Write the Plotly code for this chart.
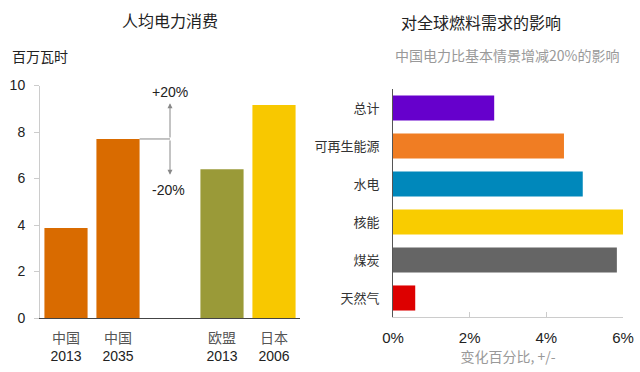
import plotly.graph_objects as go

# Left chart data
left_x = [0, 1, 3, 4]
left_labels_cn = ["中国", "中国", "欧盟", "日本"]
left_labels_yr = ["2013", "2035", "2013", "2006"]
left_values = [3.87, 7.7, 6.4, 9.16]
left_colors = ["#D96B00", "#D96B00", "#9A9A38", "#F8C800"]

# Right chart data
right_cats = ["天然气", "煤炭", "核能", "水电", "可再生能源", "总计"]
right_values = [0.58, 5.84, 6.0, 4.95, 4.46, 2.64]
right_colors = ["#DD0000", "#656565", "#F9CC00", "#0088BB", "#F07D23", "#6600CC"]
right_ticks = [0, 2, 4, 6]
right_ticktext = ["0%", "2%", "4%", "6%"]

FONT = "Liberation Sans, Arial, Noto Sans CJK SC"
CJK = "Noto Sans CJK SC, Liberation Sans"

W, H = 640, 372
def px_x(p): return p / W
def px_y(p): return 1 - p / H

fig = go.Figure()

fig.add_trace(go.Bar(
    x=left_x, y=left_values, marker=dict(color=left_colors, line=dict(width=0)),
    width=0.83, xaxis="x", yaxis="y", showlegend=False, hoverinfo="skip"))

fig.add_trace(go.Bar(
    x=right_values, y=right_cats, orientation="h",
    marker=dict(color=right_colors, line=dict(width=0)),
    width=0.66, xaxis="x2", yaxis="y2", showlegend=False, hoverinfo="skip"))

ticktext_left = [f"<span style='color:#555555'>{c}</span><br>{y}" for c, y in zip(left_labels_cn, left_labels_yr)]

fig.update_layout(
    template="none",
    width=W, height=H, margin=dict(l=0, r=0, t=0, b=0, autoexpand=False),
    paper_bgcolor="white", plot_bgcolor="white",
    font=dict(family=FONT, size=14, color="#222222"),
    xaxis=dict(domain=[px_x(40), px_x(300)], range=[-0.5, 4.5], automargin=False,
               tickmode="array", tickvals=left_x, ticktext=ticktext_left,
               showline=True, linecolor="#444444", linewidth=1,
               showgrid=False, zeroline=False, ticks="", anchor="y",
               ticklabelstandoff=7,
               tickfont=dict(size=14, family=FONT, color="#222222")),
    yaxis=dict(domain=[px_y(318), px_y(85.5)], range=[0, 10], automargin=False,
               tickvals=[0, 2, 4, 6, 8, 10], showline=True, linecolor="#CCCCCC",
               linewidth=1, ticks="outside", ticklen=5, tickcolor="#CCCCCC",
               showgrid=False, zeroline=False, anchor="x",
               ticklabelstandoff=6,
               tickfont=dict(size=14, family=FONT, color="#222222")),
    xaxis2=dict(domain=[px_x(393), px_x(623)], range=[0, 6], automargin=False,
                tickvals=right_ticks, ticktext=right_ticktext,
                showline=True, linecolor="#CCCCCC", linewidth=1,
                ticks="inside", ticklen=5, tickcolor="#CCCCCC",
                showgrid=False, zeroline=False, anchor="y2",
                ticklabelstandoff=7,
                tickfont=dict(size=15, family=FONT, color="#222222"),
                title=dict(text="变化百分比, +/-", standoff=2,
                           font=dict(size=14, family=CJK, color="#999999"))),
    yaxis2=dict(domain=[px_y(317), px_y(89)], categoryorder="array", automargin=False,
                categoryarray=right_cats, showline=True, linecolor="#555555",
                linewidth=1, ticks="", showgrid=False, zeroline=False,
                anchor="x2", ticklabelstandoff=10,
                tickfont=dict(size=13, family=CJK, color="#333333")),
    bargap=0.2,
)

china35 = left_values[1]
up = china35 * 1.2
down = china35 * 0.8
arrow_x = 2.0
gray = "#888888"

# horizontal connector from bar top
fig.add_shape(type="line", xref="x", yref="y", x0=1 + 0.415, x1=arrow_x,
              y0=china35, y1=china35, line=dict(color=gray, width=1))

fig.add_annotation(x=arrow_x, y=up, ax=arrow_x, ay=china35, xref="x", yref="y",
                   axref="x", ayref="y", text="", showarrow=True,
                   arrowhead=2, arrowsize=1, arrowwidth=1, arrowcolor=gray)
fig.add_annotation(x=arrow_x, y=down, ax=arrow_x, ay=china35, xref="x", yref="y",
                   axref="x", ayref="y", text="", showarrow=True,
                   arrowhead=2, arrowsize=1, arrowwidth=1, arrowcolor=gray)
fig.add_annotation(x=arrow_x, y=up, xref="x", yref="y", text="+20%",
                   showarrow=False, yanchor="bottom", yshift=1, xanchor="center",
                   font=dict(size=14, family=FONT, color="#222222"))
fig.add_annotation(x=arrow_x, y=down, xref="x", yref="y", text="-20%",
                   showarrow=False, yanchor="top", yshift=-5, xshift=-2, xanchor="center",
                   font=dict(size=14, family=FONT, color="#222222"))

# titles
fig.add_annotation(x=px_x(170), y=px_y(20), xref="paper", yref="paper",
                   text="人均电力消费", showarrow=False, xanchor="center", yanchor="middle",
                   font=dict(size=16, family=CJK, color="#222222"))
fig.add_annotation(x=px_x(10), y=px_y(56), xref="paper", yref="paper",
                   text="百万瓦时", showarrow=False, xanchor="left", yanchor="middle",
                   font=dict(size=14, family=CJK, color="#222222"))
fig.add_annotation(x=px_x(481), y=px_y(22), xref="paper", yref="paper",
                   text="对全球燃料需求的影响", showarrow=False, xanchor="center", yanchor="middle",
                   font=dict(size=16, family=CJK, color="#222222"))
fig.add_annotation(x=px_x(507), y=px_y(55), xref="paper", yref="paper",
                   text="中国电力比基本情景增减20%的影响", showarrow=False,
                   xanchor="center", yanchor="middle",
                   font=dict(size=14, family=CJK, color="#999999"))

fig.write_html("out.html", config={"displayModeBar": False},
               post_script="document.body.style.margin='0';")
